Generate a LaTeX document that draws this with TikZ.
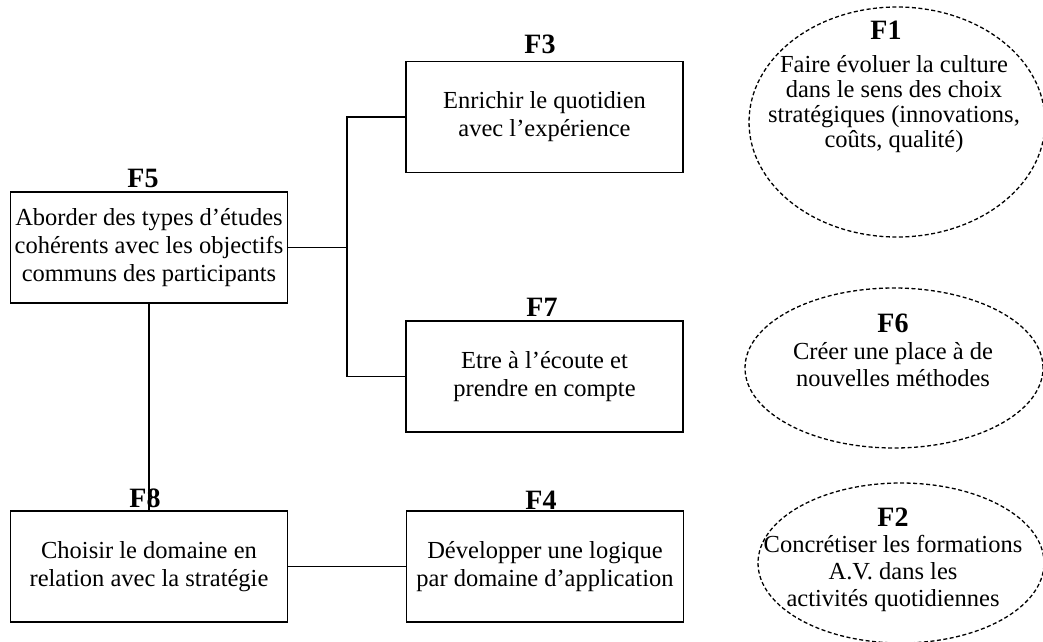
\documentclass[tikz,border=0pt]{standalone}
\usepackage{fontspec}
\setmainfont{Liberation Serif}
\usetikzlibrary{shapes.geometric}
\begin{document}
\begin{tikzpicture}[x=1pt,y=-1pt,
  box/.style={draw, line width=1.6pt, minimum width=277pt, minimum height=111pt, align=center, inner sep=0pt, font=\fontsize{24.5}{28}\selectfont},
  lab/.style={font=\fontsize{28}{30}\selectfont\bfseries, inner sep=0pt},
  oval/.style={draw, ellipse, dash pattern=on 4pt off 2.5pt, line width=1.3pt, inner sep=0pt},
  txt/.style={align=center, font=\fontsize{24.5}{27}\selectfont, inner sep=0pt},
  conn/.style={line width=1.6pt}]
\useasboundingbox (0,0) rectangle (1043,641);
% boxes
\node[box] (f5) at (149,247.5) {Aborder des types d’études\\cohérents avec les objectifs\\communs des participants};
\node[box] (f3) at (544.5,117) {Enrichir le quotidien\\avec l’expérience};
\node[box] (f7) at (544.5,376.5) {Etre à l’écoute et\\prendre en compte};
\node[box] (f8) at (149,566.5) {Choisir le domaine en\\relation avec la stratégie};
\node[box] (f4) at (545,566.5) {Développer une logique\\par domaine d’application};
% labels
\node[lab] (f5l) at (143,178) {F5};
\node[lab] (f3l) at (540,44) {F3};
\node[lab] (f7l) at (542,307) {F7};
\node[lab] (f8l) at (145,498) {F8};
\node[lab] (f4l) at (541,500) {F4};
% connectors
\coordinate (jx) at (347,247.5);
\draw[conn] (f3.west) -| (jx) |- (f7.west);
\draw[conn] (f5.east) -- (jx);
\draw[conn] (f5.south) -- (f8.north);
\draw[conn] (f8.east) -- (f4.west);
% ellipses
\node[oval, minimum width=296pt, minimum height=230pt] (f1) at (897,122) {};
\node[lab] (f1l) at (886,30) {F1};
\node[txt, font=\fontsize{24.5}{25}\selectfont] (f1t) at (894,104) {Faire évoluer la culture\\dans le sens des choix\\stratégiques (innovations,\\coûts, qualité)};
\node[oval, minimum width=298pt, minimum height=160pt] (f6) at (894,368) {};
\node[lab] (f6l) at (893,323) {F6};
\node[txt] (f6t) at (893,365) {Créer une place à de\\nouvelles méthodes};
\node[oval, minimum width=286pt, minimum height=160pt] (f2) at (901,563) {};
\node[lab] (f2l) at (893,517) {F2};
\node[txt] (f2t) at (893,573) {Concrétiser les formations\\A.V. dans les\\activités quotidiennes};
\end{tikzpicture}
\end{document}
